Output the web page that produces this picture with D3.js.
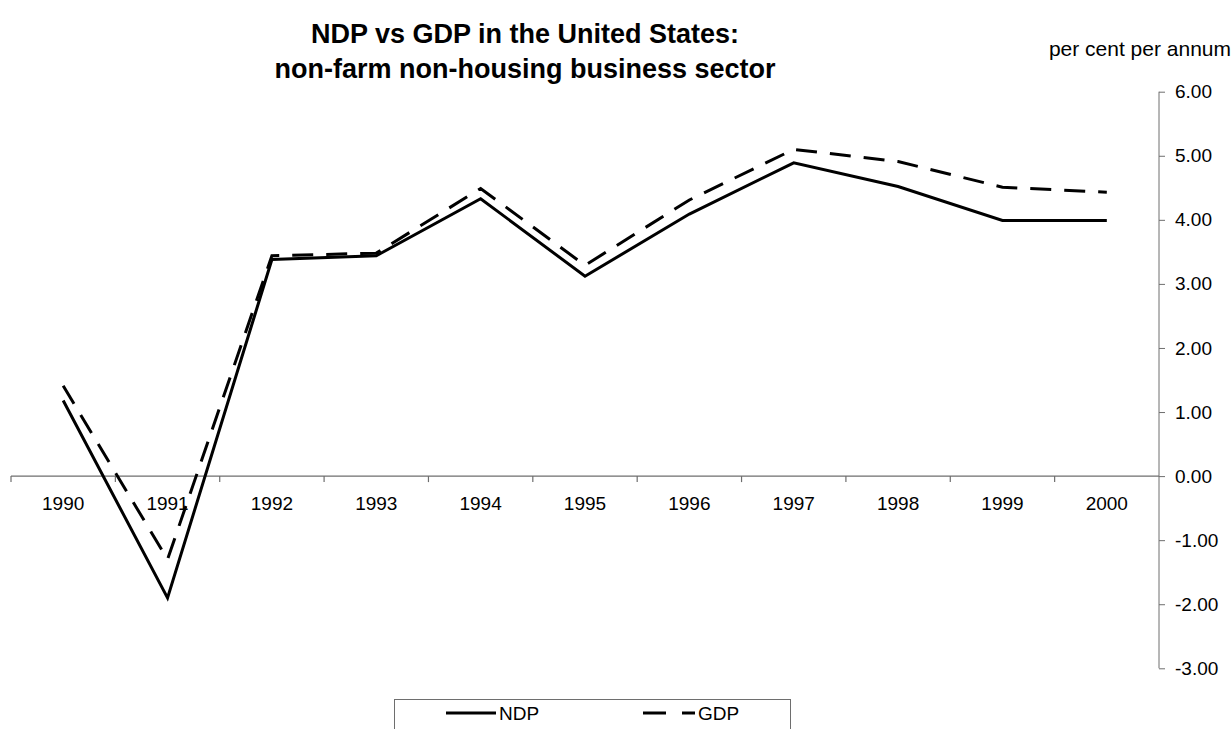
<!DOCTYPE html>
<html>
<head>
<meta charset="utf-8">
<script src="https://cdn.jsdelivr.net/npm/d3@7"></script>
<style>
  html, body { margin: 0; padding: 0; background: #fff; }
  svg { display: block; font-family: Arial, "Liberation Sans", sans-serif; }
</style>
</head>
<body>
<svg id="chart" width="1232" height="729"></svg>
<script>
// Growth rates, per cent per annum
const years = ["1990","1991","1992","1993","1994","1995","1996","1997","1998","1999","2000"];
const ndp = [1.18, -1.90, 3.38, 3.44, 4.33, 3.12, 4.09, 4.89, 4.52, 3.99, 3.99];
const gdp = [1.41, -1.30, 3.44, 3.48, 4.49, 3.29, 4.31, 5.10, 4.91, 4.51, 4.43];
const yTicks = [6, 5, 4, 3, 2, 1, 0, -1, -2, -3];
const seriesNames = ["NDP", "GDP"];

const svg = d3.select("#chart");
const axisColor = "#6e6e6e";

const x = d3.scaleBand().domain(years).range([11, 1159]).padding(0);
const y = d3.scaleLinear().domain([-3, 6]).range([668.3, 91.7]);

// Title
const title = svg.append("text")
  .attr("text-anchor", "middle")
  .attr("font-weight", "bold")
  .attr("font-size", 27)
  .attr("fill", "#000");
title.append("tspan").attr("x", 525).attr("y", 43).text("NDP vs GDP in the United States:");
title.append("tspan").attr("x", 525).attr("y", 78).text("non-farm non-housing business sector");

svg.append("text")
  .attr("x", 1231).attr("y", 56)
  .attr("text-anchor", "end")
  .attr("font-size", 21)
  .text("per cent per annum");

// Value axis on the right; labels use a plain hyphen for negatives
const fmt = d3.format(".2f");
const yAxis = d3.axisRight(y)
  .tickValues(yTicks)
  .tickSize(6)
  .tickPadding(10)
  .tickFormat(d => fmt(d).replace("\u2212", "-"));
const gy = svg.append("g")
  .attr("transform", `translate(${x.range()[1]},0)`)
  .call(yAxis);
gy.select(".domain").attr("stroke", axisColor).attr("d", `M0,${y(6)}V${y(-3)}`);
gy.selectAll(".tick line").attr("stroke", axisColor);
gy.selectAll(".tick text").attr("font-size", 19).attr("fill", "#000")
  .attr("font-family", "Arial, 'Liberation Sans', sans-serif");

// Category axis at zero, ticks between categories
const gx = svg.append("g").attr("transform", `translate(0,${y(0)})`);
gx.append("line")
  .attr("x1", x.range()[0]).attr("x2", x.range()[1])
  .attr("stroke", axisColor).attr("stroke-width", 1.2);
gx.selectAll("line.tk")
  .data(years)
  .join("line")
  .attr("class", "tk")
  .attr("x1", d => x(d)).attr("x2", d => x(d))
  .attr("y1", 0).attr("y2", 6)
  .attr("stroke", axisColor).attr("stroke-width", 1.2);
gx.selectAll("text")
  .data(years)
  .join("text")
  .attr("x", d => x(d) + x.bandwidth() / 2)
  .attr("y", 34)
  .attr("text-anchor", "middle")
  .attr("font-size", 19)
  .text(d => d);

// Series lines
const line = d3.line()
  .x((d, i) => x(years[i]) + x.bandwidth() / 2)
  .y(d => y(d));

svg.append("path")
  .datum(ndp)
  .attr("d", line)
  .attr("fill", "none")
  .attr("stroke", "#000")
  .attr("stroke-width", 3)
  .attr("stroke-linejoin", "miter");

svg.append("path")
  .datum(gdp)
  .attr("d", line)
  .attr("fill", "none")
  .attr("stroke", "#000")
  .attr("stroke-width", 3)
  .attr("stroke-dasharray", "21,13")
  .attr("stroke-linejoin", "miter");

// Legend
const legend = svg.append("g");
legend.append("rect")
  .attr("x", 394.5).attr("y", 699.5)
  .attr("width", 396).attr("height", 50)
  .attr("fill", "#fff")
  .attr("stroke", axisColor)
  .attr("stroke-width", 1);

const legendItems = [
  { name: seriesNames[0], x0: 446, x1: 496, dash: null },
  { name: seriesNames[1], x0: 643, x1: 695, dash: "23,16" }
];
legendItems.forEach(item => {
  legend.append("line")
    .attr("x1", item.x0).attr("x2", item.x1)
    .attr("y1", 713).attr("y2", 713)
    .attr("stroke", "#000")
    .attr("stroke-width", 3)
    .attr("stroke-dasharray", item.dash);
  legend.append("text")
    .attr("x", item.x1 + 3).attr("y", 720)
    .attr("font-size", 19)
    .text(item.name);
});
</script>
</body>
</html>
